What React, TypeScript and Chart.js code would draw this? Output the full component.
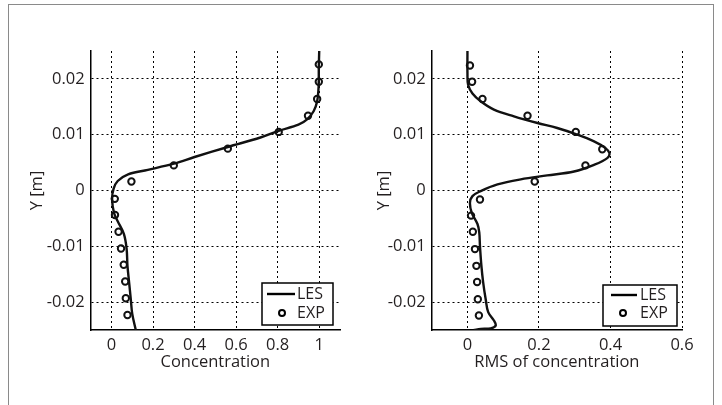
import React, { useEffect, useRef } from 'react';
import { Chart, registerables } from 'chart.js';

Chart.register(...registerables);

// Mean concentration profile
const concLesX = [1.0, 0.998, 0.997, 0.99, 0.973, 0.94, 0.9, 0.805, 0.717, 0.56, 0.4, 0.3, 0.175, 0.08, 0.03, 0.01, 0.003, 0.012, 0.03, 0.06, 0.073, 0.077, 0.085, 0.093, 0.1, 0.117];
const concLesY = [0.025, 0.022, 0.0186, 0.016, 0.0142, 0.0127, 0.0118, 0.0107, 0.0095, 0.0078, 0.006, 0.0048, 0.0037, 0.0029, 0.0017, 0.0003, -0.0015, -0.004, -0.0055, -0.0078, -0.0105, -0.0135, -0.0165, -0.0195, -0.0221, -0.025];
const concExpX = [0.998, 0.998, 0.99, 0.946, 0.805, 0.56, 0.3, 0.096, 0.016, 0.017, 0.034, 0.046, 0.059, 0.066, 0.069, 0.077];
const concExpY = [0.0226, 0.0195, 0.0164, 0.0134, 0.0105, 0.0075, 0.0045, 0.0016, -0.0015, -0.0044, -0.0074, -0.0104, -0.0133, -0.0163, -0.0193, -0.0223];

// RMS of concentration profile
const rmsLesX = [0.0, 0.0, 0.002, 0.014, 0.037, 0.074, 0.13, 0.196, 0.251, 0.303, 0.354, 0.386, 0.397, 0.391, 0.354, 0.298, 0.223, 0.149, 0.084, 0.037, 0.014, 0.007, 0.012, 0.028, 0.033, 0.035, 0.039, 0.044, 0.051, 0.058, 0.074, 0.079, 0.065, 0.037, 0.018];
const rmsLesY = [0.025, 0.021, 0.0189, 0.0174, 0.016, 0.0145, 0.0133, 0.0121, 0.0112, 0.0101, 0.0088, 0.0076, 0.0067, 0.0058, 0.0046, 0.0034, 0.0027, 0.002, 0.0011, -0.0001, -0.001, -0.0022, -0.004, -0.006, -0.0075, -0.01, -0.0135, -0.0165, -0.0195, -0.0218, -0.0233, -0.0242, -0.0247, -0.0248, -0.025];
const rmsExpX = [0.007, 0.013, 0.042, 0.168, 0.303, 0.377, 0.33, 0.188, 0.035, 0.01, 0.015, 0.021, 0.025, 0.027, 0.029, 0.032];
const rmsExpY = [0.0224, 0.0195, 0.0164, 0.0134, 0.0105, 0.0074, 0.0045, 0.0016, -0.0016, -0.0045, -0.0074, -0.0105, -0.0135, -0.0164, -0.0195, -0.0224];

// Axis ticks
const concTicksX = [0, 0.2, 0.4, 0.6, 0.8, 1];
const rmsTicksX = [0, 0.2, 0.4, 0.6];
const yTicks = [-0.02, -0.01, 0, 0.01, 0.02];

const FONT = '"Open Sans", "DejaVu Sans", sans-serif';
const INK = '#231f20';
const FONT_SIZE = 16.5;

const toPoints = (xs: number[], ys: number[]) => xs.map((x, i) => ({ x, y: ys[i] }));

// Boxed legend in the lower-right corner of the plot area
const legendBox = {
  id: 'legendBox',
  afterDraw(chart: any, _args: any, opts: any) {
    const { ctx, chartArea } = chart;
    const { w, h, dx, dy, lineX0, lineX1, textX, markX, row1, row2 } = opts;
    const x = chartArea.right - dx - w;
    const y = chartArea.bottom - dy - h;
    const ds = chart.data.datasets;
    ctx.save();
    ctx.fillStyle = '#fff';
    ctx.fillRect(x, y, w, h);
    ctx.strokeStyle = '#000';
    ctx.lineWidth = 1.5;
    ctx.strokeRect(x, y, w, h);
    ctx.lineWidth = 2.4;
    ctx.beginPath();
    ctx.moveTo(x + lineX0, y + row1);
    ctx.lineTo(x + lineX1, y + row1);
    ctx.stroke();
    ctx.lineWidth = 2;
    ctx.beginPath();
    ctx.arc(x + markX, y + row2, 3, 0, Math.PI * 2);
    ctx.stroke();
    ctx.fillStyle = INK;
    ctx.font = `16px ${FONT}`;
    ctx.textBaseline = 'middle';
    ctx.textAlign = 'left';
    ctx.fillText(ds[0].label, x + textX, y + row1);
    ctx.fillText(ds[1].label, x + textX, y + row2);
    ctx.restore();
  },
};

type PanelProps = {
  lesX: number[]; lesY: number[]; expX: number[]; expY: number[];
  xMin: number; xMax: number; xTicks: number[]; xTitle: string;
  padLeft: number; padRight: number; yWidth: number; legend: any;
};

const tickFont = { family: FONT, size: FONT_SIZE };

function Panel(p: PanelProps) {
  const ref = useRef<HTMLCanvasElement>(null);
  useEffect(() => {
    const canvas = ref.current;
    if (!canvas) return;
    const chart = new Chart(canvas, {
      type: 'scatter',
      data: {
        datasets: [
          {
            label: 'LES',
            data: toPoints(p.lesX, p.lesY),
            showLine: true,
            borderColor: '#111',
            borderWidth: 2.4,
            pointRadius: 0,
            tension: 0.35,
            order: 2,
          },
          {
            label: 'EXP',
            data: toPoints(p.expX, p.expY),
            showLine: false,
            pointStyle: 'circle',
            pointRadius: 3.2,
            pointBorderWidth: 2,
            borderColor: '#111',
            backgroundColor: 'rgba(255,255,255,0)',
            order: 1,
          },
        ],
      },
      options: {
        responsive: false,
        animation: false,
        devicePixelRatio: 1,
        layout: { padding: { left: p.padLeft, right: p.padRight, top: 51, bottom: 33.1 } },
        plugins: {
          legend: { display: false },
          tooltip: { enabled: false },
          legendBox: p.legend,
        } as any,
        scales: {
          x: {
            type: 'linear',
            min: p.xMin,
            max: p.xMax,
            afterBuildTicks: (s: any) => { s.ticks = p.xTicks.map((v) => ({ value: v })); },
            afterFit: (s: any) => { s.height = 41.9; },
            ticks: {
              color: INK,
              font: tickFont,
              padding: 5.1,
              maxRotation: 0,
              autoSkip: false,
              callback: (v: any) => String(v),
            },
            grid: { color: '#000', lineWidth: 1, drawTicks: false },
            border: { display: true, color: '#000', width: 1.5, dash: [2, 3] },
            title: { display: true, text: p.xTitle, color: INK, font: tickFont, padding: 0 },
          },
          y: {
            type: 'linear',
            min: -0.025,
            max: 0.025,
            afterBuildTicks: (s: any) => { s.ticks = yTicks.map((v) => ({ value: v })); },
            afterFit: (s: any) => { s.width = p.yWidth; },
            ticks: {
              color: INK,
              font: tickFont,
              padding: 6,
              autoSkip: false,
              callback: (v: any) => (v === 0 ? '0' : Number(v).toFixed(2)),
            },
            grid: { color: '#000', lineWidth: 1, drawTicks: false },
            border: { display: true, color: '#000', width: 1.5, dash: [2, 3] },
            title: { display: true, text: 'Y [m]', color: INK, font: tickFont, padding: 0 },
          },
        },
      },
      plugins: [legendBox],
    });
    return () => chart.destroy();
  }, []);
  return <canvas ref={ref} width={361} height={405} style={{ width: 361, height: 405, display: 'block' }} />;
}

export default function App() {
  return (
    <div style={{ position: 'absolute', left: 0, top: 0, width: 722, height: 405, background: '#fff', overflow: 'hidden' }}>
      <div style={{ position: 'absolute', left: 8, top: 4, width: 704, height: 430, border: '1px solid #8a8a8a' }} />
      <div style={{ position: 'absolute', left: 0, top: 0 }}>
        <Panel
          lesX={concLesX} lesY={concLesY} expX={concExpX} expY={concExpY}
          xMin={-0.1} xMax={1.1} xTicks={concTicksX} xTitle="Concentration"
          padLeft={27.1} padRight={21} yWidth={63.6}
          legend={{ w: 71, h: 42, dx: 7, dy: 5, lineX0: 5, lineX1: 33, textX: 35, markX: 20, row1: 11, row2: 30 }}
        />
      </div>
      <div style={{ position: 'absolute', left: 361, top: 0 }}>
        <Panel
          lesX={rmsLesX} lesY={rmsLesY} expX={rmsExpX} expY={rmsExpY}
          xMin={-0.1} xMax={0.6} xTicks={rmsTicksX} xTitle="RMS of concentration"
          padLeft={13.1} padRight={40} yWidth={57.6}
          legend={{ w: 74, h: 41, dx: 5, dy: 4, lineX0: 8, lineX1: 34, textX: 37, markX: 20, row1: 10, row2: 28 }}
        />
      </div>
    </div>
  );
}
